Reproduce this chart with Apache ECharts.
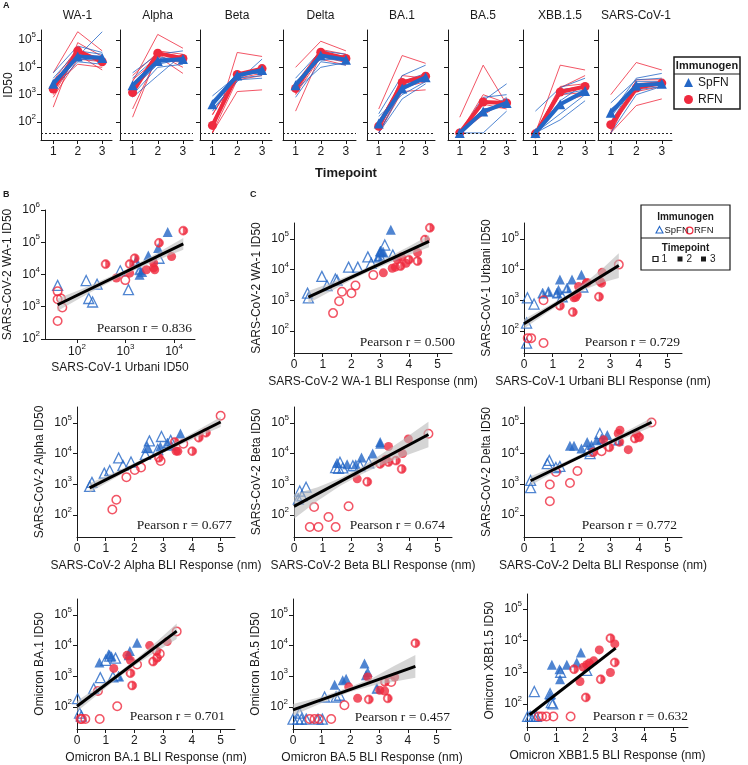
<!DOCTYPE html>
<html><head><meta charset="utf-8">
<script src="https://cdn.jsdelivr.net/npm/echarts@6/dist/echarts.min.js"></script>
<style>html,body{margin:0;padding:0;background:#fff}#c{width:748px;height:765px}</style>
</head><body><div id="c"></div>
<script>
const RED = '#ef2a3e', BLUE = '#2467c6', AX = '#1a1a1a', BAND = 'rgba(185,185,185,0.6)';
const LOD = 40;
const timepoints = [1, 2, 3];
const bliTicks = [0, 1, 2, 3, 4, 5];
const id50Ticks = [100, 1000, 10000, 100000];

// ---------- Panel A ----------
const variantsA = ['WA-1', 'Alpha', 'Beta', 'Delta', 'BA.1', 'BA.5', 'XBB.1.5', 'SARS-CoV-1'];
const spfnMeanA = [[2500, 25000, 22000], [2200, 17000, 20000], [450, 5000, 8000], [2200, 27000, 19000], [88, 1700, 4300], [40, 240, 500], [40, 450, 1350], [220, 2150, 2500]];
const rfnMeanA = [[1600, 40000, 16000], [1200, 33000, 21000], [75, 5500, 9000], [1700, 36000, 21000], [70, 2800, 4700], [40, 540, 500], [37, 1250, 2000], [80, 1750, 2650]];
const wa1SpfnA = [[3200, 25000, 200000], [6300, 60000, 35000], [2500, 30000, 25000], [2000, 20000, 18000], [1600, 16000, 13000], [4000, 40000, 30000]];
const wa1RfnA = [[6300, 200000, 40000], [350, 80000, 25000], [3200, 50000, 13000], [1000, 30000, 8000], [800, 20000, 16000], [2000, 13000, 10000]];
const alphaSpfnA = [[6300, 30000, 40000], [4000, 25000, 15000], [2500, 20000, 25000], [1600, 13000, 20000], [1000, 10000, 13000], [800, 5000, 30000]];
const alphaRfnA = [[3000, 160000, 50000], [150, 30000, 10000], [300, 25000, 6000], [1600, 40000, 30000], [3500, 20000, 15000], [5000, 35000, 25000]];
const betaSpfnA = [[300, 3000, 20000], [600, 6000, 6000], [900, 5000, 9000], [400, 4000, 5000], [250, 3500, 4000], [500, 4500, 7000]];
const betaRfnA = [[40, 35000, 25000], [40, 1300, 1500], [190, 5000, 10000], [90, 4000, 6000], [180, 6000, 8000], [40, 3500, 5000]];
const deltaSpfnA = [[4000, 40000, 30000], [3000, 20000, 18000], [1500, 10000, 15000], [800, 16000, 12000], [2500, 30000, 20000], [2000, 25000, 25000]];
const deltaRfnA = [[10000, 90000, 40000], [250, 30000, 20000], [1000, 25000, 15000], [2500, 45000, 30000], [1100, 35000, 25000], [2600, 20000, 12000]];
const ba1SpfnA = [[200, 5000, 12000], [60, 2500, 5000], [160, 1000, 3000], [100, 3000, 6000], [40, 700, 2500], [40, 1500, 4000]];
const ba1RfnA = [[300, 27000, 14000], [40, 5000, 4000], [40, 1800, 3000], [100, 3000, 3000], [40, 1300, 1500], [110, 2500, 5500]];
const ba5SpfnA = [[40, 40, 250], [40, 600, 2500], [40, 800, 1000], [40, 200, 800], [40, 300, 400], [40, 500, 600]];
const ba5RfnA = [[150, 12000, 450], [40, 1000, 500], [40, 300, 350], [40, 200, 700], [40, 450, 300], [40, 180, 600]];
const xbbSpfnA = [[250, 1800, 4000], [40, 1500, 2000], [40, 120, 600], [40, 200, 1000], [40, 1000, 1500], [40, 600, 2500]];
const xbbRfnA = [[40, 12000, 8000], [40, 1800, 5000], [40, 1500, 2000], [40, 500, 1000], [40, 1000, 1200], [40, 2000, 2500]];
const sarsSpfnA = [[200, 4000, 6000], [100, 3000, 3000], [300, 1500, 2000], [150, 2500, 2500], [40, 1000, 2000], [500, 3500, 4000]];
const sarsRfnA = [[1000, 15000, 8000], [40, 400, 700], [60, 1300, 2000], [40, 2500, 3000], [50, 2000, 2500], [40, 3500, 3500]];
const spfnIndA = [wa1SpfnA, alphaSpfnA, betaSpfnA, deltaSpfnA, ba1SpfnA, ba5SpfnA, xbbSpfnA, sarsSpfnA];
const rfnIndA = [wa1RfnA, alphaRfnA, betaRfnA, deltaRfnA, ba1RfnA, ba5RfnA, xbbRfnA, sarsRfnA];

// ---------- Panel B : [Urbani ID50, WA-1 ID50, timepoint] ----------
const bSpfn = [[40, 4600, 1], [155, 6500, 1], [260, 5000, 1], [175, 1800, 1], [210, 1400, 1], [1150, 3400, 1], [4900, 32000, 1], [780, 13000, 1],
  [1660, 26000, 2], [1950, 14000, 2],
  [7400, 210000, 3], [1950, 9800, 3], [2950, 39000, 3], [4700, 67000, 3], [2200, 12000, 3]];
const bRfn = [[40, 3000, 1], [40, 1700, 1], [47, 1800, 1], [50, 950, 1], [40, 360, 1], [990, 6700, 1],
  [390, 21000, 2], [1550, 32000, 2], [4900, 96000, 2], [15500, 230000, 2], [1220, 21000, 2],
  [650, 7800, 3], [1220, 11000, 3], [2700, 14000, 3], [3800, 16000, 3], [3800, 23000, 3], [4000, 14000, 3], [8900, 36000, 3]];
const bFit = [[40, 1150], [15500, 89000]];
const bBand = [[40, 730, 1800], [120, 1900, 3400], [300, 4000, 6300], [1000, 10200, 14000], [4000, 26000, 42000], [15500, 59000, 135000]];

// ---------- Panel C : [BLI nm, ID50, timepoint] ----------
const c1Spfn = [[0.47, 1700, 1], [0.5, 1200, 1], [0.97, 6000, 1], [1.15, 3000, 1], [1.44, 4900, 1], [1.5, 4500, 1], [1.9, 12000, 1], [2.22, 12000, 1], [2.57, 26000, 1], [2.69, 16000, 1], [2.98, 29000, 1], [3.16, 63000, 1], [3.44, 30000, 1],
  [3.01, 40000, 2], [3.1, 37000, 2], [2.95, 25000, 2], [3.37, 200000, 3], [3.0, 38000, 3]];
const c1Rfn = [[1.36, 380, 1], [1.57, 930, 1], [1.67, 1900, 1], [2.0, 1700, 1], [2.14, 3000, 1], [2.76, 6600, 1],
  [4.73, 230000, 2], [4.3, 19000, 2], [3.71, 13000, 2], [4.0, 21000, 2], [4.56, 95000, 2],
  [3.11, 7800, 3], [3.42, 11000, 3], [3.53, 12000, 3], [4.3, 36000, 3], [3.6, 21000, 3], [3.74, 26000, 3], [3.9, 16000, 3]];
const c1Fit = [[0.5, 1260], [4.7, 83000]];
const c1Band = [[0.5, 790, 2000], [1.2, 1800, 3450], [2.0, 4600, 6900], [2.6, 8500, 12300], [3.3, 16000, 26000], [4.0, 30000, 57000], [4.7, 53000, 132000]];

const c2Spfn = [[0.09, 180, 1], [0.09, 40, 1], [0.12, 1200, 1], [0.35, 750, 1], [1.33, 1300, 1], [2.05, 2700, 1],
  [0.65, 1700, 2], [0.85, 1900, 2], [1.15, 1700, 2], [1.5, 2500, 2],
  [1.25, 4700, 3], [1.67, 4700, 3], [2.0, 6800, 3], [1.2, 2200, 3]];
const c2Rfn = [[0.13, 58, 1], [0.25, 58, 1], [0.68, 40, 1], [0.68, 1000, 1], [3.3, 14500, 1],
  [1.25, 660, 2], [1.7, 410, 2], [2.61, 1300, 2], [2.65, 4100, 2], [1.84, 1500, 2],
  [1.74, 1200, 3], [1.9, 2800, 3], [2.17, 3600, 3], [2.7, 3600, 3], [2.72, 8100, 3], [1.8, 1250, 3], [2.2, 3800, 3]];
const c2Fit = [[0, 170], [3.3, 13500]];
const c2Band = [[0, 120, 240], [0.8, 390, 620], [1.6, 1180, 1700], [2.2, 2400, 4200], [2.8, 3900, 12300], [3.3, 5300, 34000]];

const c3Spfn = [[0.44, 850, 1], [0.52, 1150, 1], [0.95, 2300, 1], [1.14, 2800, 1], [1.45, 7200, 1], [1.6, 4100, 1], [1.88, 5300, 1], [2.38, 9400, 1], [2.52, 26000, 1], [2.44, 16000, 1], [2.81, 13500, 1], [2.94, 36000, 1], [3.26, 27000, 1],
  [3.15, 22000, 2], [2.45, 15000, 3], [2.9, 17000, 3], [3.3, 18000, 3], [3.6, 45000, 3]];
const c3Rfn = [[1.23, 150, 1], [1.37, 310, 1], [1.72, 1700, 1], [2.01, 2900, 1], [2.23, 3500, 1], [2.91, 5700, 1], [3.7, 21000, 1], [5.0, 170000, 1],
  [2.85, 7300, 2], [4.01, 12000, 2], [4.24, 33000, 2], [4.49, 48000, 2], [3.4, 24000, 2],
  [3.51, 11800, 3], [3.45, 12000, 3]];
const c3Fit = [[0.44, 760], [5.0, 107000]];
const c3Band = [[0.44, 540, 1070], [1.2, 1380, 2190], [2.0, 3550, 4900], [2.8, 8700, 11500], [3.6, 19500, 28000], [4.3, 38000, 66000], [5.0, 74000, 155000]];

const c4Spfn = [[0.15, 330, 1], [0.2, 600, 1], [0.28, 420, 1], [0.42, 800, 1], [1.45, 3500, 1], [1.55, 3300, 1], [1.6, 5200, 1], [1.7, 3400, 1], [2.05, 4000, 1], [2.6, 5000, 1], [2.3, 4000, 1],
  [1.5, 5000, 3], [1.85, 4500, 3], [2.15, 4500, 3], [2.35, 7500, 3], [2.74, 10000, 3], [3.0, 21000, 3], [3.0, 24000, 3]];
const c4Rfn = [[0.55, 40, 1], [0.7, 180, 1], [0.85, 40, 1], [1.2, 85, 1], [1.45, 40, 1], [1.9, 190, 1], [4.68, 44000, 1],
  [2.55, 1200, 2], [3.75, 3150, 2], [3.55, 5900, 2], [3.0, 4600, 2], [3.29, 5300, 2],
  [2.2, 1500, 3], [3.29, 17000, 3], [3.98, 30000, 3], [3.78, 10000, 3], [3.2, 6500, 3]];
const c4Fit = [[0, 190], [4.68, 42000]];
const c4Band = [[0, 75, 480], [0.8, 280, 780], [1.6, 870, 1580], [2.3, 2000, 3460], [3.0, 4100, 8900], [3.8, 8000, 29000], [4.68, 16000, 110000]];

const c5Spfn = [[0.23, 1330, 1], [0.23, 770, 1], [0.81, 4700, 1], [0.88, 6000, 1], [1.11, 3500, 1], [1.25, 3800, 1], [2.3, 10000, 1], [2.64, 45000, 1], [2.2, 12000, 1],
  [3.28, 27000, 2], [2.7, 30000, 2],
  [1.6, 18000, 3], [1.74, 18000, 3], [2.0, 14500, 3], [2.2, 24000, 3], [2.35, 19000, 3], [2.9, 40000, 3], [2.53, 27000, 3]];
const c5Rfn = [[0.9, 280, 1], [0.9, 980, 1], [1.11, 2500, 1], [1.6, 1100, 1], [1.86, 2700, 1], [2.7, 12000, 1], [4.44, 103000, 1],
  [2.97, 16000, 2], [3.32, 24000, 2], [3.86, 31000, 2], [4.01, 34000, 2], [2.41, 11000, 2],
  [2.77, 28000, 3], [3.34, 58000, 3], [3.63, 13400, 3], [3.92, 43000, 3], [3.28, 45000, 3]];
const c5Fit = [[0.23, 1300], [4.44, 105000]];
const c5Band = [[0.23, 910, 1820], [1.0, 2350, 3540], [1.8, 5900, 7800], [2.6, 13500, 17800], [3.4, 29000, 44000], [4.44, 74000, 148000]];

const c6Spfn = [[0.02, 185, 1], [0.09, 63, 1], [0.15, 50, 1], [0.58, 395, 1], [0.81, 900, 1], [1.0, 3300, 1], [1.14, 4500, 1], [1.34, 3900, 1], [1.25, 950, 1],
  [1.45, 1000, 2], [0.78, 2800, 3], [1.1, 5200, 3], [1.2, 4500, 3], [1.84, 6600, 3], [2.09, 12300, 3], [1.8, 4800, 3]];
const c6Rfn = [[0.12, 40, 1], [0.17, 40, 1], [0.29, 40, 1], [0.79, 40, 1], [1.4, 105, 1], [0.73, 330, 1], [2.09, 2400, 1], [2.88, 5400, 1], [3.47, 29000, 1],
  [1.86, 1260, 2], [1.92, 500, 2], [2.65, 3000, 2], [2.79, 4000, 2], [2.77, 6600, 2],
  [1.28, 1800, 3], [1.74, 4800, 3], [1.86, 3300, 3], [2.53, 10000, 3], [3.14, 13500, 3]];
const c6Fit = [[0, 105], [3.47, 29500]];
const c6Band = [[0, 71, 155], [0.7, 245, 430], [1.4, 850, 1230], [2.1, 2570, 3900], [2.8, 6600, 14000], [3.47, 16500, 52000]];

const c7Spfn = [[0, 40, 1], [0.17, 40, 1], [0.29, 40, 1], [0.46, 40, 1], [0.87, 40, 1], [1.02, 40, 1], [0.23, 63, 1], [1.1, 210, 1], [1.5, 210, 1], [1.62, 240, 1],
  [2.92, 400, 2], [1.45, 530, 3], [1.73, 740, 3], [1.85, 830, 3], [2.49, 2600, 3], [2.54, 1070, 3], [2.6, 1380, 3]];
const c7Rfn = [[0.58, 40, 1], [0.75, 40, 1], [0.9, 40, 1], [1.33, 40, 1], [1.79, 113, 1], [3.42, 650, 1],
  [2.64, 175, 2], [3.3, 190, 2], [4.26, 12000, 2], [3.2, 650, 2],
  [1.94, 450, 3], [2.25, 190, 3], [2.6, 950, 3], [3.02, 350, 3], [3.19, 330, 3], [3.54, 940, 3]];
const c7Fit = [[0, 80], [4.26, 2100]];
const c7Band = [[0, 52, 124], [1.0, 135, 215], [2.0, 310, 450], [2.8, 500, 910], [3.5, 660, 2100], [4.26, 890, 4900]];

const c8Spfn = [[0.02, 40, 1], [0.11, 40, 1], [0.23, 40, 1], [0.25, 245, 1], [0.32, 40, 1], [0.79, 210, 1], [0.83, 110, 1], [0.88, 100, 1], [2.04, 1140, 1], [1.15, 1000, 1],
  [0.85, 1730, 3], [1.11, 1250, 3], [1.13, 600, 3], [1.36, 1740, 3], [1.7, 2040, 3], [1.84, 4200, 3], [0.79, 190, 3]];
const c8Rfn = [[0.4, 40, 1], [0.51, 40, 1], [0.66, 40, 1], [0.9, 40, 1], [1.49, 40, 1],
  [1.61, 1250, 2], [2.01, 160, 2], [2.52, 600, 2], [2.85, 12000, 2], [3.0, 2050, 2],
  [1.81, 510, 3], [2.04, 1740, 3], [2.13, 1950, 3], [2.28, 2300, 3], [2.47, 5100, 3], [2.85, 980, 3], [3.0, 7900, 3], [1.92, 1450, 3]];
const c8Fit = [[0.09, 45], [3.03, 5800]];

const pearsonB = '0.836';
const panelsC = [
  {spfn: c1Spfn, rfn: c1Rfn, fit: c1Fit, band: c1Band, y: 'SARS-CoV-2 WA-1 ID50', x: 'SARS-CoV-2 WA-1 BLI Response (nm)', r: '0.500'},
  {spfn: c2Spfn, rfn: c2Rfn, fit: c2Fit, band: c2Band, y: 'SARS-CoV-1 Urbani ID50', x: 'SARS-CoV-1 Urbani BLI Response (nm)', r: '0.729'},
  {spfn: c3Spfn, rfn: c3Rfn, fit: c3Fit, band: c3Band, y: 'SARS-CoV-2 Alpha ID50', x: 'SARS-CoV-2 Alpha BLI Response (nm)', r: '0.677'},
  {spfn: c4Spfn, rfn: c4Rfn, fit: c4Fit, band: c4Band, y: 'SARS-CoV-2 Beta ID50', x: 'SARS-CoV-2 Beta BLI Response (nm)', r: '0.674'},
  {spfn: c5Spfn, rfn: c5Rfn, fit: c5Fit, band: c5Band, y: 'SARS-CoV-2 Delta ID50', x: 'SARS-CoV-2 Delta BLI Response (nm)', r: '0.772'},
  {spfn: c6Spfn, rfn: c6Rfn, fit: c6Fit, band: c6Band, y: 'Omicron BA.1 ID50', x: 'Omicron BA.1 BLI Response (nm)', r: '0.701'},
  {spfn: c7Spfn, rfn: c7Rfn, fit: c7Fit, band: c7Band, y: 'Omicron BA.5 ID50', x: 'Omicron BA.5 BLI Response (nm)', r: '0.457'},
  {spfn: c8Spfn, rfn: c8Rfn, fit: c8Fit, band: null, y: 'Omicron XBB1.5 ID50', x: 'Omicron XBB1.5 BLI Response (nm)', r: '0.632'}
];

// ---------- layout ----------
const gridA = [[41, 71], [120, 73], [200, 72], [283, 73], [367, 68], [448, 68], [523, 72], [598, 74]];
const gridC = [[294, 223, 158, 130], [524, 223, 158, 130], [77, 407, 158, 130], [294, 407, 158, 130], [524, 407, 158, 130], [77, 599, 158, 130], [293, 599, 158, 130], [527, 594, 161, 133]];
const pearsonPos = [[455, 342], [680, 342], [232, 525], [445, 525], [677, 525], [225, 716], [450, 717], [688, 716]];

const HALF_CIRCLE = 'path://M10,0A10,10,0,1,1,10,20A10,10,0,1,1,10,0ZM10,2.8A7.2,7.2,0,1,0,10,17.2A7.2,7.2,0,1,0,10,2.8ZM10,2.8A7.2,7.2,0,0,1,10,17.2Z';
const HALF_TRI = 'path://M10,0L20,18L0,18ZM10,5L3.9,15.8L16.1,15.8ZM10,5L16.1,15.8L10,15.8Z';

const lineStyleAx = {color: AX, width: 1};
const supRich = {b: {fontSize: 12, lineHeight: 18, color: AX}, s: {fontSize: 8, lineHeight: 9, verticalAlign: 'top', color: AX}};
function expFmt(v) { return '{b|10}{s|' + Math.round(Math.log10(v)) + '}'; }

const grids = [], xAxes = [], yAxes = [], series = [], graphics = [];
function txt(text, x, y, font, align, extra) {
  graphics.push(Object.assign({type: 'text', silent: true, style: {text: text, x: x, y: y, font: font, fill: AX, textAlign: align || 'center', textVerticalAlign: 'middle'}}, extra || {}));
}

// Panel A
gridA.forEach(([l, w], i) => {
  grids.push({left: l, top: 30, width: w, height: 110});
  xAxes.push({gridIndex: i, type: 'value', min: 0.5, max: 3.4,
    axisLine: {show: true, onZero: false, lineStyle: lineStyleAx},
    axisTick: {show: true, length: 4, customValues: timepoints, lineStyle: lineStyleAx},
    axisLabel: {customValues: timepoints, fontSize: 12, color: AX, margin: 6},
    splitLine: {show: false}});
  yAxes.push({gridIndex: i, type: 'log', logBase: 10, min: 22, max: 232000,
    axisLine: {show: true, lineStyle: lineStyleAx},
    axisTick: {show: true, length: 4, customValues: id50Ticks, lineStyle: lineStyleAx},
    axisLabel: i === 0 ? {customValues: id50Ticks, formatter: expFmt, rich: supRich, margin: 5} : {show: false},
    splitLine: {show: false},
    name: i === 0 ? 'ID50' : '', nameLocation: 'middle', nameGap: 25, nameTextStyle: {fontSize: 12, color: AX}});
  rfnIndA[i].forEach(r => series.push({type: 'line', name: 'RFN-i', xAxisIndex: i, yAxisIndex: i, symbol: 'none', silent: true,
    data: timepoints.map((t, k) => [t, r[k]]), lineStyle: {color: RED, width: 0.8}, z: 2}));
  spfnIndA[i].forEach(r => series.push({type: 'line', name: 'SpFN-i', xAxisIndex: i, yAxisIndex: i, symbol: 'none', silent: true,
    data: timepoints.map((t, k) => [t, r[k]]), lineStyle: {color: BLUE, width: 0.8}, z: 2}));
  series.push({type: 'line', name: 'RFN', xAxisIndex: i, yAxisIndex: i, symbol: 'circle', symbolSize: 9,
    data: timepoints.map((t, k) => [t, rfnMeanA[i][k]]), lineStyle: {color: RED, width: 4}, itemStyle: {color: RED}, z: 3,
    markLine: {silent: true, symbol: 'none', label: {show: false}, lineStyle: {type: [2, 2], color: '#222', width: 1}, data: [{yAxis: LOD}]}});
  series.push({type: 'line', name: 'SpFN', xAxisIndex: i, yAxisIndex: i, symbol: 'triangle', symbolSize: 10,
    data: timepoints.map((t, k) => [t, spfnMeanA[i][k]]), lineStyle: {color: BLUE, width: 4}, itemStyle: {color: BLUE}, z: 4});
  txt(variantsA[i], l + w / 2 + 1, 16, '12px "Liberation Sans"');
});

// scatter helper
const markerDefs = [
  {grp: 'spfn', tp: 1, symbol: 'triangle', size: 10, style: {color: 'rgba(0,0,0,0)', borderColor: BLUE, borderWidth: 1.3}},
  {grp: 'spfn', tp: 2, symbol: HALF_TRI, size: 10, style: {color: BLUE, borderColor: BLUE, borderWidth: 0.6}},
  {grp: 'spfn', tp: 3, symbol: 'triangle', size: 10, style: {color: BLUE}},
  {grp: 'rfn', tp: 1, symbol: 'circle', size: 8.5, style: {color: 'rgba(0,0,0,0)', borderColor: RED, borderWidth: 1.5}},
  {grp: 'rfn', tp: 2, symbol: HALF_CIRCLE, size: 9, style: {color: RED, borderColor: RED, borderWidth: 0.6}},
  {grp: 'rfn', tp: 3, symbol: 'circle', size: 9, style: {color: RED}}
];
function addScatter(gi, spfn, rfn, fit, band) {
  const groups = {spfn: spfn, rfn: rfn};
  markerDefs.forEach(d => {
    series.push({type: 'scatter', name: d.grp + d.tp, xAxisIndex: gi, yAxisIndex: gi, symbol: d.symbol, symbolSize: d.size,
      data: groups[d.grp].filter(p => p[2] === d.tp).map(p => [p[0], p[1]]), itemStyle: d.style, z: 2, silent: true});
  });
  if (band) {
    series.push({type: 'custom', xAxisIndex: gi, yAxisIndex: gi, z: 3, silent: true, clip: true,
      data: band, encode: {x: 0, y: [1, 2]},
      renderItem: function (params, api) {
        if (params.dataIndexInside !== 0) return null;
        const n = params.dataInsideLength;
        const up = [], lo = [];
        for (let j = 0; j < n; j++) {
          up.push(api.coord([api.value(0, j), api.value(2, j)]));
          lo.push(api.coord([api.value(0, j), api.value(1, j)]));
        }
        return {type: 'polygon', shape: {points: up.concat(lo.reverse())}, style: {fill: BAND}};
      }});
  }
  series.push({type: 'line', name: 'fit', xAxisIndex: gi, yAxisIndex: gi, symbol: 'none', silent: true, data: fit,
    lineStyle: {color: '#000', width: 3}, z: 4});
}

// Panel B
const gB = grids.length;
grids.push({left: 45, top: 210, width: 150, height: 129});
xAxes.push({gridIndex: gB, type: 'log', logBase: 10, min: 22, max: 27000,
  axisLine: {show: true, onZero: false, lineStyle: lineStyleAx},
  axisTick: {show: true, length: 4, customValues: [100, 1000, 10000], lineStyle: lineStyleAx},
  axisLabel: {customValues: [100, 1000, 10000], formatter: expFmt, rich: supRich, margin: 4},
  splitLine: {show: false},
  name: 'SARS-CoV-1 Urbani ID50', nameLocation: 'middle', nameGap: 23, nameTextStyle: {fontSize: 12, color: AX}});
yAxes.push({gridIndex: gB, type: 'log', logBase: 10, min: 99.5, max: 1005000,
  axisLine: {show: true, lineStyle: lineStyleAx},
  axisTick: {show: true, length: 4, customValues: [100, 1000, 10000, 100000, 1000000], lineStyle: lineStyleAx},
  axisLabel: {customValues: [100, 1000, 10000, 100000, 1000000], formatter: expFmt, rich: supRich, margin: 5},
  splitLine: {show: false},
  name: 'SARS-CoV-2 WA-1 ID50', nameLocation: 'middle', nameGap: 31, nameTextStyle: {fontSize: 12, color: AX}});
addScatter(gB, bSpfn, bRfn, bFit, bBand);
txt('Pearson r = ' + pearsonB, 192, 328, '13.5px "Liberation Serif"', 'right');

// Panel C
panelsC.forEach((p, k) => {
  const gi = grids.length;
  const [l, t, w, h] = gridC[k];
  grids.push({left: l, top: t, width: w, height: h});
  xAxes.push({gridIndex: gi, type: 'value', min: 0, max: 5.5,
    axisLine: {show: true, onZero: false, lineStyle: lineStyleAx},
    axisTick: {show: true, length: 4, customValues: bliTicks, lineStyle: lineStyleAx},
    axisLabel: {customValues: bliTicks, fontSize: 12, color: AX, margin: 6},
    splitLine: {show: false},
    name: p.x, nameLocation: 'middle', nameGap: 23, nameTextStyle: {fontSize: 12, color: AX}});
  yAxes.push({gridIndex: gi, type: 'log', logBase: 10, min: k === 7 ? 18.5 : 19, max: k === 7 ? 300000 : 330000,
    axisLine: {show: true, lineStyle: lineStyleAx},
    axisTick: {show: true, length: 4, customValues: id50Ticks, lineStyle: lineStyleAx},
    axisLabel: {customValues: id50Ticks, formatter: expFmt, rich: supRich, margin: 5},
    splitLine: {show: false},
    name: p.y, nameLocation: 'middle', nameGap: 31, nameTextStyle: {fontSize: 12, color: AX}});
  addScatter(gi, p.spfn, p.rfn, p.fit, p.band);
  txt('Pearson r = ' + p.r, pearsonPos[k][0], pearsonPos[k][1], '13.5px "Liberation Serif"', 'right');
});

// panel letters, titles
txt('A', 3, 6, 'bold 9px "Liberation Sans"', 'left');
txt('B', 3, 195, 'bold 9px "Liberation Sans"', 'left');
txt('C', 250, 195, 'bold 9px "Liberation Sans"', 'left');
txt('Timepoint', 346, 173, 'bold 13px "Liberation Sans"');

// Legend A frame
graphics.push({type: 'rect', silent: true, shape: {x: 674, y: 57, width: 66, height: 52}, style: {fill: 'none', stroke: AX, lineWidth: 1.5}});
graphics.push({type: 'line', silent: true, shape: {x1: 674, y1: 74, x2: 740, y2: 74}, style: {stroke: AX, lineWidth: 1.2}});
txt('Immunogen', 707, 65.5, 'bold 11px "Liberation Sans"');

// Legend C
graphics.push({type: 'rect', silent: true, shape: {x: 641, y: 205, width: 89, height: 65}, style: {fill: 'none', stroke: AX, lineWidth: 1.2}});
graphics.push({type: 'line', silent: true, shape: {x1: 641, y1: 238, x2: 730, y2: 238}, style: {stroke: AX, lineWidth: 1.2}});
txt('Immunogen', 685.5, 217, 'bold 10px "Liberation Sans"');
graphics.push({type: 'polygon', silent: true, shape: {points: [[659.5, 226.5], [663, 233], [656, 233]]}, style: {fill: 'none', stroke: BLUE, lineWidth: 1.1}});
txt('SpFN', 664.5, 230.5, '9.5px "Liberation Sans"', 'left');
graphics.push({type: 'circle', silent: true, shape: {cx: 689.5, cy: 230.5, r: 3.4}, style: {fill: 'none', stroke: RED, lineWidth: 1.2}});
txt('RFN', 694, 230.5, '9.5px "Liberation Sans"', 'left');
txt('Timepoint', 685.5, 248.5, 'bold 10px "Liberation Sans"');
graphics.push({type: 'rect', silent: true, shape: {x: 653, y: 256.5, width: 5, height: 5}, style: {fill: 'none', stroke: AX, lineWidth: 1.2}});
txt('1', 661.5, 259.5, '10px "Liberation Sans"', 'left');
graphics.push({type: 'rect', silent: true, shape: {x: 677.5, y: 256.5, width: 5, height: 5}, style: {fill: AX}});
txt('2', 686.5, 259.5, '10px "Liberation Sans"', 'left');
graphics.push({type: 'rect', silent: true, shape: {x: 701, y: 256.5, width: 5, height: 5}, style: {fill: AX}});
txt('3', 710, 259.5, '10px "Liberation Sans"', 'left');

const option = {
  animation: false,
  backgroundColor: '#fff',
  textStyle: {fontFamily: 'Liberation Sans'},
  grid: grids, xAxis: xAxes, yAxis: yAxes, series: series,
  legend: {orient: 'vertical', left: 684, top: 76.5, itemWidth: 9, itemHeight: 9, itemGap: 5, padding: 0,
    textStyle: {fontSize: 12, lineHeight: 12, color: AX},
    data: [{name: 'SpFN', icon: 'triangle'}, {name: 'RFN', icon: 'circle'}]},
  graphic: {elements: graphics}
};
const chart = echarts.init(document.getElementById('c'), null, {renderer: 'canvas'});
chart.setOption(option);
</script>
</body></html>
